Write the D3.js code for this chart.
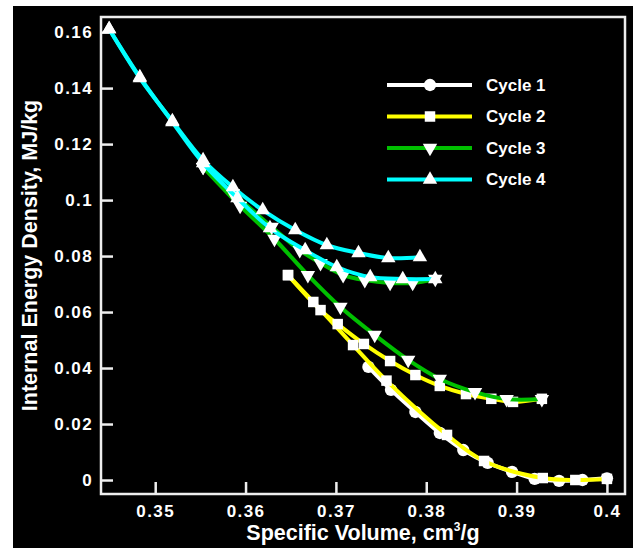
<!DOCTYPE html>
<html>
<head>
<meta charset="utf-8">
<script src="https://cdn.jsdelivr.net/npm/d3@7"></script>
<style>
  html, body { margin: 0; padding: 0; background: #fff; }
  svg { display: block; }
  text { font-family: "Liberation Sans", Arial, sans-serif; font-weight: bold; fill: #fff; }
</style>
</head>
<body>
<svg id="svg" width="633" height="548"></svg>
<script>
const w = 633;
const h = 548;

// tick values and labels
const xTicks = [0.35, 0.36, 0.37, 0.38, 0.39, 0.4];
const xTickLabels = ["0.35", "0.36", "0.37", "0.38", "0.39", "0.4"];
const yTicks = [0, 0.02, 0.04, 0.06, 0.08, 0.1, 0.12, 0.14, 0.16];
const yTickLabels = ["0", "0.02", "0.04", "0.06", "0.08", "0.1", "0.12", "0.14", "0.16"];

const cycleNames = ["Cycle 1", "Cycle 2", "Cycle 3", "Cycle 4"];
const cycleColors = ["#ffffff", "#ffff00", "#00c000", "#00ffff"];
const cycleMarkers = ["circle", "square", "down", "up"];

// [specific volume, internal energy density]
const cycle1 = [
  [0.3736, 0.0404], [0.3761, 0.0322], [0.3788, 0.0243], [0.3815, 0.0168],
  [0.3841, 0.0107], [0.3868, 0.0061], [0.3895, 0.0029], [0.3920, 0.0004],
  [0.3947, -0.0003], [0.3973, 0.0], [0.4000, 0.0006]
];
const cycle2Compression = [
  [0.4000, 0.0004], [0.3965, 0.0], [0.3929, 0.0007], [0.3864, 0.0068],
  [0.3823, 0.0161], [0.3756, 0.0355], [0.3719, 0.0482], [0.3675, 0.0636],
  [0.3647, 0.0732]
];
const cycle2Expansion = [
  [0.3647, 0.0732], [0.3683, 0.0607], [0.3702, 0.0557], [0.3731, 0.0486],
  [0.3760, 0.0425], [0.3788, 0.0375], [0.3815, 0.0336], [0.3844, 0.0307],
  [0.3872, 0.0290], [0.3896, 0.0279], [0.3928, 0.0290]
];
const cycle3Compression = [
  [0.3928, 0.0289], [0.3889, 0.0289], [0.3854, 0.0314], [0.3815, 0.0361],
  [0.3780, 0.0429], [0.3743, 0.0518], [0.3705, 0.0618], [0.3669, 0.0732],
  [0.3632, 0.0861], [0.3594, 0.0979], [0.3553, 0.1118]
];
const cycle3Expansion = [
  [0.3553, 0.1118], [0.3586, 0.1025], [0.3629, 0.0904], [0.3660, 0.0821],
  [0.3683, 0.0775], [0.3708, 0.0732], [0.3732, 0.0714], [0.3760, 0.0704],
  [0.3785, 0.0704], [0.3810, 0.0718]
];
const cycle4Compression = [
  [0.3810, 0.0718], [0.3774, 0.0718], [0.3738, 0.0725], [0.3701, 0.0761],
  [0.3666, 0.0821], [0.3627, 0.0900], [0.3591, 0.1007], [0.3553, 0.1132],
  [0.3519, 0.1279], [0.3483, 0.1439], [0.3449, 0.1611]
];
const cycle4Expansion = [
  [0.3449, 0.1611], [0.3483, 0.1436], [0.3519, 0.1282], [0.3553, 0.1143],
  [0.3586, 0.1046], [0.3619, 0.0964], [0.3655, 0.0893], [0.3690, 0.0839],
  [0.3725, 0.0811], [0.3758, 0.0793], [0.3793, 0.0796]
];

const cycles = [
  [cycle1],
  [cycle2Compression, cycle2Expansion],
  [cycle3Compression, cycle3Expansion],
  [cycle4Compression, cycle4Expansion]
];

const plot = { left: 101, right: 625, top: 17, bottom: 494 };

let svg = d3.select("#svg");

svg.append("rect")
  .attr("x", 13).attr("y", 6)
  .attr("width", w - 13).attr("height", h - 6)
  .attr("fill", "#000");

let xScale = d3.scaleLinear([0.344, 0.402], [plot.left, plot.right]);
let yScale = d3.scaleLinear([-0.005, 0.1654], [plot.bottom, plot.top]);

// axes with inward ticks
let xAxis = d3.axisBottom(xScale)
  .tickValues(xTicks)
  .tickFormat((d, i) => xTickLabels[i])
  .tickSizeInner(-12).tickSizeOuter(0).tickPadding(9);

let yAxis = d3.axisLeft(yScale)
  .tickValues(yTicks)
  .tickFormat((d, i) => yTickLabels[i])
  .tickSizeInner(-12).tickSizeOuter(0).tickPadding(8);

let gx = svg.append("g")
  .attr("transform", `translate(0,${plot.bottom})`)
  .call(xAxis);
let gy = svg.append("g")
  .attr("transform", `translate(${plot.left},0)`)
  .call(yAxis);

[gx, gy].forEach((g) => {
  g.select(".domain").remove();
  g.selectAll("line").attr("stroke", "#eee").attr("stroke-width", 2.5);
  g.selectAll("text")
    .attr("fill", "#eee")
    .style("font-family", '"Liberation Sans", Arial, sans-serif')
    .style("font-weight", "bold")
    .style("font-size", "17px")
    .style("letter-spacing", "1.4px");
});
gx.selectAll("text").attr("dy", "0.8em");

svg.append("rect")
  .attr("x", plot.left).attr("y", plot.top)
  .attr("width", plot.right - plot.left)
  .attr("height", plot.bottom - plot.top)
  .attr("fill", "none")
  .attr("stroke", "#eee")
  .attr("stroke-width", 2.5);

// axis titles
let xTitle = svg.append("text")
  .attr("x", (plot.left + plot.right) / 2)
  .attr("y", 540)
  .attr("text-anchor", "middle")
  .style("font-size", "21.5px");
xTitle.append("tspan").text("Specific Volume, cm");
xTitle.append("tspan").attr("dy", -9).style("font-size", "12px").text("3");
xTitle.append("tspan").attr("dy", 9).text("/g");

svg.append("text")
  .attr("transform", `translate(37,${(plot.top + plot.bottom) / 2}) rotate(-90)`)
  .attr("text-anchor", "middle")
  .style("font-size", "21.5px")
  .text("Internal Energy Density, MJ/kg");

// marker shapes
const symbolFor = {
  circle: d3.symbol(d3.symbolCircle, 120)(),
  square: d3.symbol(d3.symbolSquare, 110)(),
  up: d3.symbol(d3.symbolTriangle, 90)(),
  down: d3.symbol(d3.symbolTriangle, 90)()
};
const rotFor = { circle: 0, square: 0, up: 0, down: 180 };

let lineFunc = d3.line()
  .x((d) => xScale(d[0]))
  .y((d) => yScale(d[1]))
  .curve(d3.curveCatmullRom.alpha(0.5));

cycles.forEach((branches, i) => {
  let g = svg.append("g");
  branches.forEach((branch) => {
    g.append("path")
      .datum(branch)
      .attr("fill", "none")
      .attr("stroke", cycleColors[i])
      .attr("stroke-width", 4)
      .attr("d", lineFunc);
  });
  branches.forEach((branch) => {
    g.selectAll(null)
      .data(branch)
      .join("path")
      .attr("d", symbolFor[cycleMarkers[i]])
      .attr("transform", (d) => `translate(${xScale(d[0])},${yScale(d[1])}) rotate(${rotFor[cycleMarkers[i]]})`)
      .attr("fill", "#fff");
  });
});

// legend
const legendX = 387;
const legendY = 85;
const legendStep = 31.5;

cycleNames.forEach((name, i) => {
  let y = legendY + i * legendStep;
  svg.append("line")
    .attr("x1", legendX).attr("x2", legendX + 85)
    .attr("y1", y).attr("y2", y)
    .attr("stroke", cycleColors[i])
    .attr("stroke-width", 4);
  svg.append("path")
    .attr("d", symbolFor[cycleMarkers[i]])
    .attr("transform", `translate(${legendX + 43},${y}) rotate(${rotFor[cycleMarkers[i]]})`)
    .attr("fill", "#fff");
  svg.append("text")
    .attr("x", legendX + 99)
    .attr("y", y)
    .attr("dy", "0.35em")
    .style("font-size", "17px")
    .text(name);
});
</script>
</body>
</html>
